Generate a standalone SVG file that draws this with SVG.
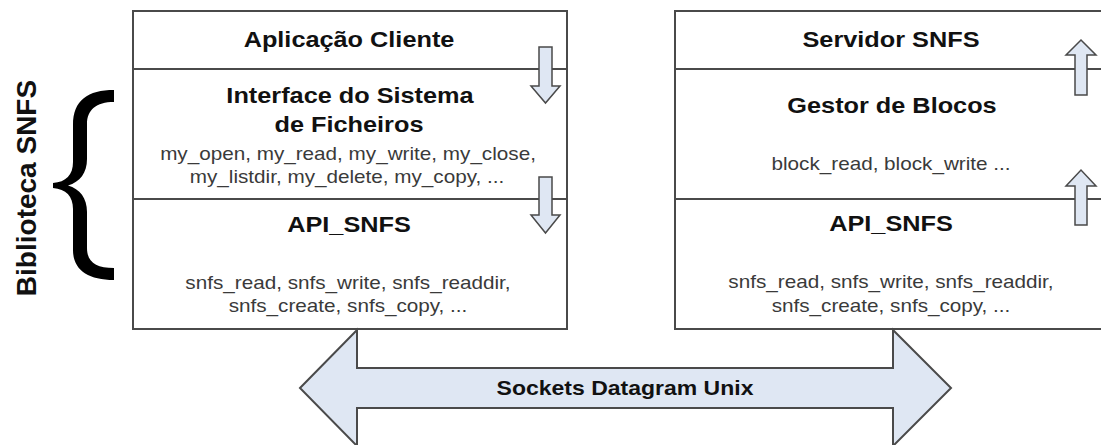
<svg xmlns="http://www.w3.org/2000/svg" width="1101" height="445" viewBox="0 0 1101 445">
<style>
.box{fill:#fff;stroke:#4a4a4a;stroke-width:2}
.t{font-family:"Liberation Sans",Arial,sans-serif;font-weight:bold;font-size:22px;fill:#111;text-anchor:middle}
.f{font-family:"Liberation Sans",Arial,sans-serif;font-size:18px;fill:#3a3a3a;text-anchor:middle}
.arr{fill:#dfe7f3;stroke:#4a4a4a;stroke-width:1.5;stroke-linejoin:miter}
</style>
<rect width="1101" height="445" fill="#fff"/>
<g id="node-aplicacao-cliente">
<rect class="box" x="133" y="11" width="434" height="58"/>
<text class="t" transform="translate(349 47) scale(1.15 1)">Aplicação Cliente</text>
</g>
<g id="node-interface-sistema-ficheiros">
<rect class="box" x="133" y="69" width="434" height="130"/>
<text class="t" transform="translate(350 103) scale(1.15 1)">Interface do Sistema</text>
<text class="t" transform="translate(349 132) scale(1.15 1)">de Ficheiros</text>
<text class="f" transform="translate(348 160) scale(1.15 1)">my_open, my_read, my_write, my_close,</text>
<text class="f" transform="translate(347 183) scale(1.15 1)">my_listdir, my_delete, my_copy, ...</text>
</g>
<g id="node-api-snfs-cliente">
<rect class="box" x="133" y="199" width="434" height="130"/>
<text class="t" transform="translate(349 232) scale(1.15 1)">API_SNFS</text>
<text class="f" transform="translate(348 289) scale(1.15 1)">snfs_read, snfs_write, snfs_readdir,</text>
<text class="f" transform="translate(348 312) scale(1.15 1)">snfs_create, snfs_copy, ...</text>
</g>
<g id="node-servidor-snfs">
<rect class="box" x="675" y="11" width="434" height="58"/>
<text class="t" transform="translate(891 47) scale(1.15 1)">Servidor SNFS</text>
</g>
<g id="node-gestor-blocos">
<rect class="box" x="675" y="69" width="434" height="130"/>
<text class="t" transform="translate(892 113) scale(1.15 1)">Gestor de Blocos</text>
<text class="f" transform="translate(891 170) scale(1.15 1)">block_read, block_write ...</text>
</g>
<g id="node-api-snfs-servidor">
<rect class="box" x="675" y="199" width="434" height="130"/>
<text class="t" transform="translate(891 231) scale(1.15 1)">API_SNFS</text>
<text class="f" transform="translate(891 288) scale(1.15 1)">snfs_read, snfs_write, snfs_readdir,</text>
<text class="f" transform="translate(891 312) scale(1.15 1)">snfs_create, snfs_copy, ...</text>
</g>
<g id="label-biblioteca-snfs">
<path d="M114 90 C88 90 73 100 73 125 L73 162 C73 175 66 182 53 183 L53 188 C66 189 73 196 73 209 L73 250 C73 270 88 280 114 280 L114 268 C96 268 87 262 87 248 L87 212 C87 198 80 189 68 185.5 C80 182 87 173 87 159 L87 124 C87 110 96 102 114 102 Z" fill="#000"/>
<text class="t" style="font-size:28px" transform="translate(36 188) rotate(-90)">Biblioteca SNFS</text>
</g>
<g id="connectors">
<path class="arr" d="M539 47 L552 47 L552 86 L560 86 L545.5 103 L531 86 L539 86 Z"/>
<path class="arr" d="M539 177 L552 177 L552 215 L560 215 L545.5 233 L531 215 L539 215 Z"/>
<path class="arr" d="M1075 95 L1087 95 L1087 55 L1096 55 L1081 40 L1066 55 L1075 55 Z"/>
<path class="arr" d="M1075 225 L1087 225 L1087 186 L1096 186 L1081 170 L1066 186 L1075 186 Z"/>
</g>
<g id="node-sockets-datagram-unix">
<path class="arr" style="stroke-width:2" d="M300 388 L357 330 L357 368 L893 368 L893 330 L951 388 L893 446 L893 408 L357 408 L357 446 Z"/>
<text class="t" style="font-size:20px" transform="translate(625 395) scale(1.15 1)">Sockets Datagram Unix</text>
</g>
</svg>
